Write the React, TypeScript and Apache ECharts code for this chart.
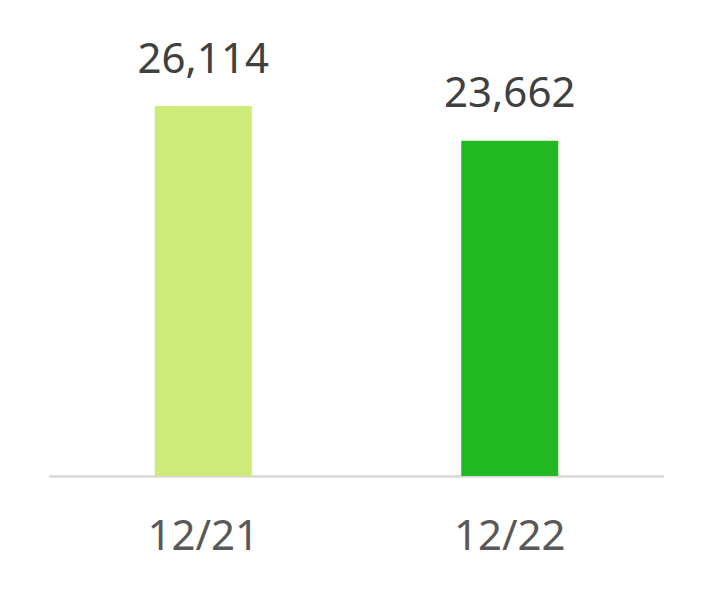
import React, { useEffect, useRef } from "react";
import * as echarts from "echarts";

const categories = ["12/21", "12/22"];
const values = [26114, 23662];
const barColors = ["#cdeb76", "#22b821"];

export default function App() {
  const ref = useRef<HTMLDivElement>(null);
  useEffect(() => {
    if (!ref.current) return;
    const chart = echarts.init(ref.current, null, { renderer: "svg" });
    chart.setOption({
      animation: false,
      backgroundColor: "#ffffff",
      grid: { left: 50, right: 51, top: 106, bottom: 122, containLabel: false },
      xAxis: {
        type: "category",
        data: categories,
        axisLine: { show: true, lineStyle: { color: "#d9d9d9", width: 2.5 } },
        axisTick: { show: false },
        axisLabel: {
          color: "#595959",
          fontSize: 42,
          fontFamily: "Noto Sans",
          margin: 36,
        },
      },
      yAxis: {
        type: "value",
        min: 0,
        max: 26114,
        show: false,
        splitLine: { show: false },
      },
      series: [
        {
          type: "bar",
          barWidth: 97,
          data: values.map((v, i) => ({ value: v, itemStyle: { color: barColors[i] } })),
          label: {
            show: true,
            position: "top",
            distance: 29,
            color: "#404040",
            fontSize: 42,
            fontFamily: "Noto Sans",
            formatter: (p: any) => Number(p.value).toLocaleString("en-US"),
          },
        },
      ],
    });
    return () => chart.dispose();
  }, []);
  return <div ref={ref} style={{ width: 714, height: 598, position: "absolute", left: 0, top: 0 }} />;
}
